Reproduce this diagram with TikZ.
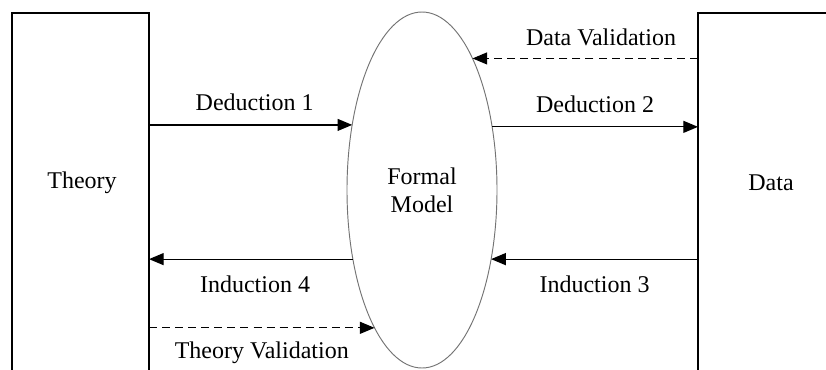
\documentclass[tikz,border=0pt]{standalone}
\usepackage{fontspec}
\setmainfont{Liberation Serif}
\usetikzlibrary{arrows.meta,shapes.geometric,positioning}

\tikzset{every picture/.style={line width=0.75pt}}
\tikzset{
  box/.style={draw, line width=1.1pt, anchor=north west, inner sep=0pt, outer sep=0pt},
  model/.style={draw=black!55, ellipse, line width=0.7pt, inner sep=0pt, outer sep=0pt,
    minimum width=112.5pt, minimum height=267pt, align=center},
  flow/.style={line width=0.9pt, -{Triangle[length=11pt,width=9pt]}},
  check/.style={flow, dash pattern={on 6pt off 3.8pt}},
  lbl/.style={inner sep=0.75pt}
}

\begin{document}
\begin{tikzpicture}[x=0.75pt,y=0.75pt,yscale=-1,xscale=1]
\fontsize{18}{21}\selectfont
\useasboundingbox (0,0) rectangle (826,369);
\clip (0,0) rectangle (826,369);

%Shape: Rectangle [id:theory]
\node [box, minimum width=102.75pt, minimum height=300pt] (theory) at (12,13) {};
%Shape: Rectangle [id:data]
\node [box, minimum width=150pt, minimum height=300pt] (data) at (698,13) {};
%Shape: Ellipse [id:model]
\node [model] (model) at (422,190) {Formal\\Model};

% Text Node
\node [lbl] (theorytxt) at (82,183) {Theory};
% Text Node
\node [lbl] (datatxt) at (771,183) {Data};

%Straight Lines [id:deduction1]
\draw [flow] (theory.east |- model.137.6) -- (model.137.6)
  node [lbl, pos=0.52, above=9.5pt] (ded1) {Deduction 1};
%Straight Lines [id:deduction2]
\draw [flow] (model.42.4) -- (data.west |- model.42.4)
  node [lbl, midway, above=9.5pt] (ded2) {Deduction 2};
%Straight Lines [id:induction3]
\draw [flow] (data.west |- model.-45) -- (model.-45)
  node [lbl, midway, below=11pt] (ind3) {Induction 3};
%Straight Lines [id:induction4]
\draw [flow] (model.-135) -- (theory.east |- model.-135)
  node [lbl, pos=0.48, below=11pt] (ind4) {Induction 4};
%Straight Lines [id:datavalid]
\draw [check] (data.west |- model.69.8) -- (model.69.8)
  node [lbl, pos=0.43, above=8pt] (dval) {Data Validation};
%Straight Lines [id:theoryvalid]
\draw [check] (theory.east |- model.-109.3) -- (model.-109.3)
  node [lbl, midway, below=9pt] (tval) {Theory Validation};

\end{tikzpicture}
\end{document}
